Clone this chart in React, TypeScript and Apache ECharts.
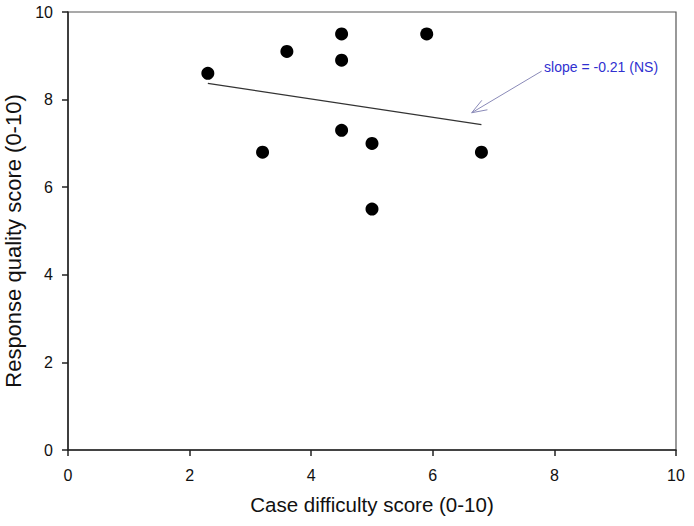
import React, { useEffect, useRef } from "react";
import * as echarts from "echarts";

const difficulty = [2.3, 3.2, 3.6, 4.5, 4.5, 4.5, 5.0, 5.0, 5.9, 6.8];
const quality = [8.6, 6.8, 9.1, 9.5, 8.9, 7.3, 7.0, 5.5, 9.5, 6.8];
const fitX = [2.3, 6.8];
const fitY = [8.37, 7.43];
const arrowFrom = [7.79, 8.65];
const arrowTo = [6.64, 7.7];
const annotationText = "slope = -0.21 (NS)";
const annotationAt = [7.83, 8.74];

export default function App() {
  const ref = useRef<HTMLDivElement>(null);
  useEffect(() => {
    document.body.style.margin = "0";
    const chart = echarts.init(ref.current!, null, { renderer: "svg" });
    const font = "'Liberation Sans', Arial, sans-serif";
    chart.setOption({
      animation: false,
      backgroundColor: "#fff",
      textStyle: { fontFamily: font },
      grid: {
        left: 68,
        right: 18,
        top: 12,
        bottom: 76,
        containLabel: false,
        outerBoundsMode: "none",
        show: true,
        borderColor: "#555",
        borderWidth: 1.2,
      },
      xAxis: {
        type: "value",
        min: 0,
        max: 10,
        interval: 2,
        name: "Case difficulty score (0-10)",
        nameLocation: "middle",
        nameGap: 44,
        nameTextStyle: { fontSize: 20.5, color: "#111", fontFamily: font },
        axisLine: { onZero: false, lineStyle: { color: "#222", width: 1.5 } },
        axisTick: { show: true, length: 6, lineStyle: { color: "#222", width: 1.5 } },
        axisLabel: { fontSize: 16, color: "#111", margin: 17, fontFamily: font },
        splitLine: { show: false },
      },
      yAxis: {
        type: "value",
        min: 0,
        max: 10,
        interval: 2,
        name: "Response quality score (0-10)",
        nameLocation: "middle",
        nameGap: 42,
        nameTextStyle: { fontSize: 22, color: "#111", fontFamily: font, padding: [0, 20, 0, 0] },
        axisLine: { show: true, onZero: false, lineStyle: { color: "#222", width: 1.5 } },
        axisTick: { show: true, length: 6, lineStyle: { color: "#222", width: 1.5 } },
        axisLabel: { fontSize: 16, color: "#111", margin: 15, fontFamily: font },
        splitLine: { show: false },
      },
      series: [
        {
          type: "line",
          data: fitX.map((x, i) => [x, fitY[i]]),
          symbol: "none",
          lineStyle: { color: "#333", width: 1.2 },
          z: 2,
        },
        {
          type: "scatter",
          data: difficulty.map((x, i) => [x, quality[i]]),
          symbol: "circle",
          symbolSize: 13,
          itemStyle: { color: "#000", opacity: 1 },
          z: 3,
        },
        {
          type: "custom",
          data: [[arrowFrom[0], arrowFrom[1], arrowTo[0], arrowTo[1]]],
          renderItem: (params: any, api: any) => {
            const p0 = api.coord([api.value(0), api.value(1)]);
            const p1 = api.coord([api.value(2), api.value(3)]);
            const ta = api.coord(annotationAt);
            const ang = Math.atan2(p0[1] - p1[1], p0[0] - p1[0]);
            const L = 16;
            const spread = 0.35;
            const h1 = [p1[0] + L * Math.cos(ang + spread), p1[1] + L * Math.sin(ang + spread)];
            const h2 = [p1[0] + L * Math.cos(ang - spread), p1[1] + L * Math.sin(ang - spread)];
            const stroke = { stroke: "#8a8ab8", lineWidth: 1, fill: "none" };
            return {
              type: "group",
              children: [
                { type: "line", shape: { x1: p0[0], y1: p0[1], x2: p1[0], y2: p1[1] }, style: stroke },
                { type: "polyline", shape: { points: [h1, p1, h2] }, style: stroke },
                {
                  type: "text",
                  x: ta[0],
                  y: ta[1],
                  style: {
                    text: annotationText,
                    fill: "#3030d0",
                    fontSize: 14,
                    fontFamily: font,
                    textAlign: "left",
                    textVerticalAlign: "middle",
                  },
                },
              ],
            };
          },
          z: 4,
        },
      ],
    });
    return () => chart.dispose();
  }, []);
  return <div ref={ref} style={{ width: 694, height: 526 }} />;
}
